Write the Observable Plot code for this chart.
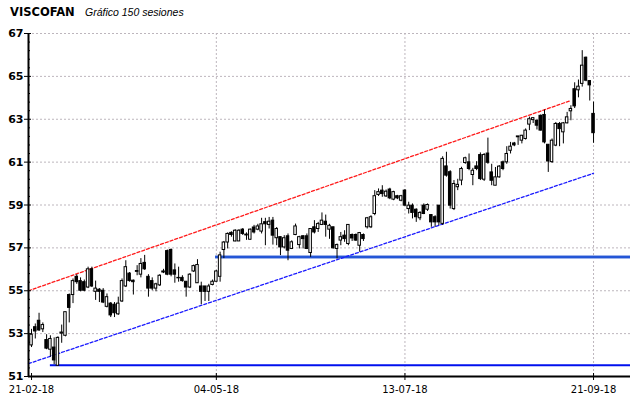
<!DOCTYPE html>
<html>
<head>
<meta charset="utf-8">
<script src="https://cdn.jsdelivr.net/npm/d3@7"></script>
<script src="https://cdn.jsdelivr.net/npm/@observablehq/plot@0.6"></script>
<style>
  html, body { margin: 0; padding: 0; background: #fff; }
  #wrap { width: 640px; height: 398px; position: relative; overflow: hidden; }
  #title { height: 20px; position: relative; }
  #title .t1 { position: absolute; left: 10px; top: 5px; line-height: 1; font: bold 11.5px "DejaVu Sans", sans-serif; color: #000; }
  #title .t2 { position: absolute; left: 85px; top: 6px; line-height: 1; font: italic 10.5px "Liberation Sans", Arial, sans-serif; color: #000; }
  svg { display: block; }
</style>
</head>
<body>
<div id="wrap">
  <div id="title"><span class="t1">VISCOFAN</span><span class="t2">Gráfico 150 sesiones</span></div>
  <div id="chart"></div>
</div>
<script>
// ---- Data (150 sessions) ----
const open = [
52.45,53.3,53.6,53.2,52.7,52.25,52.35,51.5,53.0,52.9,
54.8,54.8,55.65,55.45,55.4,55.15,56.0,54.95,55.05,55.0,
54.25,54.4,54.35,53.9,54.5,55.2,55.8,55.47,55.88,55.75,
56.3,55.65,55.45,55.1,55.25,55.9,56.85,56.9,55.95,55.6,
55.6,55.42,55.15,55.9,55.35,55.2,55.2,54.95,55.27,55.42,
55.65,56.9,57.25,57.7,57.3,57.3,57.85,57.62,57.38,57.95,
57.85,57.76,58.2,58.07,58.27,57.45,57.5,57.02,57.54,56.95,
57.6,57.13,57.54,57.54,56.76,57.96,57.88,58.07,58.22,57.85,
57.96,56.95,57.34,57.57,57.18,57.6,57.6,57.1,57.6,57.96,
57.96,58.58,59.47,59.67,59.4,59.72,59.25,59.41,59.2,59.67,
58.81,58.97,58.78,58.38,58.97,58.78,58.53,58.43,58.97,58.12,
60.8,60.53,58.81,59.83,60.14,60.96,60.99,60.4,60.8,61.33,
60.18,61.4,60.52,59.9,60.29,60.99,60.99,61.53,61.87,62.16,
62.0,62.08,62.75,62.96,62.93,63.16,63.2,61.81,61.0,61.77,
62.78,62.39,62.81,63.37,64.4,64.35,64.65,65.87,64.78,63.25];
const high = [
53.2,53.45,53.95,53.5,52.95,52.9,52.8,52.85,53.4,54.0,
54.85,55.55,55.75,55.6,55.5,56.1,56.1,55.45,55.1,55.1,
54.85,54.45,54.45,54.7,55.55,56.4,55.85,55.5,56.17,56.5,
56.65,55.75,55.6,55.35,55.75,56.0,56.9,56.95,56.25,56.1,
55.7,55.42,55.8,56.2,56.45,55.4,55.2,55.3,55.5,55.95,
56.8,57.3,57.7,57.75,57.85,57.85,57.9,57.7,57.88,58.05,
58.1,58.38,58.38,58.42,58.42,57.95,57.5,57.57,57.65,57.33,
58.11,57.54,57.57,57.65,57.9,58.27,58.19,58.63,58.53,58.1,
57.96,57.18,57.72,57.8,58.07,57.65,57.65,57.72,57.65,58.42,
58.5,59.67,59.75,59.9,59.7,59.78,59.64,59.45,59.45,59.72,
59.13,59.05,58.82,58.69,59.05,59.05,58.55,58.5,58.97,61.25,
61.46,60.6,60.14,60.2,60.76,61.23,61.38,60.71,61.02,61.43,
61.4,62.12,60.9,60.75,60.84,61.05,61.72,61.92,61.92,62.2,
62.25,62.55,63.1,63.08,62.96,63.2,63.43,61.81,62.08,62.85,
62.85,62.85,63.32,63.63,64.7,64.83,66.2,65.9,64.8,63.8];
const low = [
52.35,52.75,53.1,53.05,52.25,51.9,51.55,51.5,52.55,52.85,
53.5,54.4,55.3,54.95,54.95,55.1,55.15,54.55,54.45,54.4,
54.2,53.75,53.75,53.85,54.45,55.15,55.4,54.8,55.7,55.6,
55.95,54.7,55.0,54.95,55.2,55.8,55.7,55.65,55.35,55.4,
55.4,54.7,55.1,55.85,55.35,54.35,54.5,54.5,55.23,55.4,
55.4,56.5,56.95,57.5,57.28,57.3,57.58,57.35,57.35,57.65,
57.8,57.65,57.1,57.88,57.13,57.1,56.64,56.95,56.4,56.92,
57.57,56.95,56.95,56.92,56.56,57.65,57.72,58.04,57.5,57.4,
56.95,56.48,57.1,57.26,57.1,57.3,57.3,56.8,57.3,57.88,
57.9,58.5,59.4,59.36,59.35,59.25,59.2,59.25,59.15,58.94,
58.58,58.35,58.19,58.27,58.55,58.7,57.96,57.96,58.03,58.05,
60.3,58.81,58.74,59.67,59.9,60.9,60.6,59.9,60.6,60.14,
60.1,60.9,59.9,59.9,60.25,60.6,60.9,61.38,61.72,61.78,
61.85,62.03,62.47,62.8,62.5,62.45,61.85,60.52,60.94,61.72,
61.72,61.85,62.78,62.93,63.5,64.0,64.5,64.75,63.85,61.88];
const close = [
52.95,53.1,53.15,53.4,52.3,52.75,51.75,52.8,53.05,54.0,
54.2,55.45,55.4,55.0,55.0,56.0,55.2,55.1,54.95,54.45,
54.7,53.85,53.95,54.4,55.45,56.1,55.45,55.4,55.92,56.25,
56.0,55.1,55.1,55.3,55.7,55.85,55.75,55.75,55.75,55.58,
55.45,55.15,55.75,56.15,56.2,54.95,54.95,55.2,55.42,55.9,
56.65,57.25,57.65,57.6,57.8,57.8,57.65,57.58,57.85,57.72,
58.0,58.1,58.1,58.22,57.57,57.88,57.02,57.45,56.87,57.26,
58.0,57.5,57.41,56.95,57.88,57.72,58.11,58.27,58.07,58.03,
56.98,57.13,57.5,57.41,58.07,57.44,57.34,57.69,57.41,58.38,
58.43,59.41,59.6,59.51,59.62,59.31,59.6,59.31,59.41,58.97,
58.97,58.63,58.43,58.63,58.58,59.0,58.19,58.19,58.19,61.15,
60.37,58.97,59.98,59.94,60.68,61.18,60.68,60.6,60.68,60.21,
61.33,60.97,60.13,60.29,60.79,60.68,61.38,61.72,61.78,62.2,
62.23,62.47,63.0,63.05,62.7,62.47,61.92,61.03,62.0,62.78,
62.54,62.81,63.09,63.48,63.6,64.52,65.5,64.8,64.58,62.35];

// x-axis tick labels and the session index they mark
const tickLabels = ["21-02-18", "04-05-18", "13-07-18", "21-09-18"];
const tickSessions = [0, 49, 99, 149];

// y-axis labels
const yTicks = [51, 53, 55, 57, 59, 61, 63, 65, 67];

// trend channel lines (session index, price)
const redTrendSession = [-0.8, 142.6];
const redTrendPrice = [55.0, 63.85];
const blueTrendSession = [-0.8, 149];
const blueTrendPrice = [51.6, 60.48];

// horizontal support levels: price and first session
const levelPrice = [51.53, 56.57];
const levelFrom = [5, 48.8];

// ---- Build tables ----
const candles = open.map((o, i) => ({i, open: o, high: high[i], low: low[i], close: close[i]}));
const redTrend = redTrendSession.map((s, k) => ({i: s, v: redTrendPrice[k]}));
const blueTrend = blueTrendSession.map((s, k) => ({i: s, v: blueTrendPrice[k]}));

const xDomain = [-0.8, 158.8];
const yDomain = [51, 67];

const minorTicks = [];
for (let k = 0; k < yTicks.length - 1; k++) {
  for (let j = 1; j <= 4; j++) minorTicks.push(+(yTicks[k] + j * 0.4).toFixed(2));
}

const gridStyle = {stroke: "#bdb6bd", strokeOpacity: 1, strokeDasharray: "2,2", strokeWidth: 1};

const chart = Plot.plot({
  width: 640,
  height: 378,
  marginLeft: 28,
  marginRight: 10,
  marginTop: 13,
  marginBottom: 22,
  x: {domain: xDomain},
  y: {domain: yDomain},
  style: {fontFamily: "'DejaVu Sans', sans-serif", background: "#fff", color: "#000", overflow: "visible"},
  marks: [
    Plot.gridY({ticks: yTicks.slice(1), ...gridStyle}),
    Plot.gridX({ticks: tickSessions.slice(1), ...gridStyle}),
    // support levels
    Plot.ruleY([1], {y: () => levelPrice[1], x1: () => levelFrom[1], x2: () => xDomain[1], stroke: "#9db3ec", strokeWidth: 4}),
    Plot.ruleY([1], {y: () => levelPrice[1], x1: () => levelFrom[1], x2: () => xDomain[1], stroke: "#2456d6", strokeWidth: 2}),
    Plot.ruleY([0], {y: () => levelPrice[0], x1: () => levelFrom[0], x2: () => xDomain[1], stroke: "#0010ee", strokeWidth: 2}),
    // trend channel
    Plot.line(redTrend, {x: "i", y: "v", stroke: "#ff1a1a", strokeWidth: 1.3, strokeDasharray: "3,2"}),
    Plot.line(blueTrend, {x: "i", y: "v", stroke: "#1a1aff", strokeWidth: 1.3, strokeDasharray: "3,2"}),
    // candles
    Plot.ruleX(candles, {x: "i", y1: "low", y2: "high", stroke: "#000", strokeWidth: 1}),
    Plot.rect(candles, {
      x1: d => d.i - 0.33, x2: d => d.i + 0.33,
      y1: "open", y2: "close",
      fill: d => d.close >= d.open ? "#ffffff" : "#000000",
      stroke: "#000", strokeWidth: 1
    }),
    // axis lines
    Plot.ruleX([xDomain[0]], {stroke: "#000", strokeWidth: 2}),
    Plot.ruleY([yDomain[0]], {stroke: "#000", strokeWidth: 2}),
    // y axis
    Plot.axisY({ticks: yTicks, tickSize: 4, tickPadding: 1, fontWeight: "bold", fontSize: 11, label: null, tickFormat: d => String(d)}),
    Plot.axisY({ticks: yTicks, tickSize: -3, text: null, label: null}),
    Plot.axisY({ticks: minorTicks, tickSize: -2, text: null, label: null}),
    // x axis
    Plot.axisX({ticks: tickSessions, tickSize: 4, tickPadding: 5, fontSize: 10, label: null,
      tickFormat: d => tickLabels[tickSessions.indexOf(d)]}),
    Plot.axisX({ticks: tickSessions, tickSize: -3, text: null, label: null})
  ]
});
document.getElementById("chart").appendChild(chart);
</script>
</body>
</html>
